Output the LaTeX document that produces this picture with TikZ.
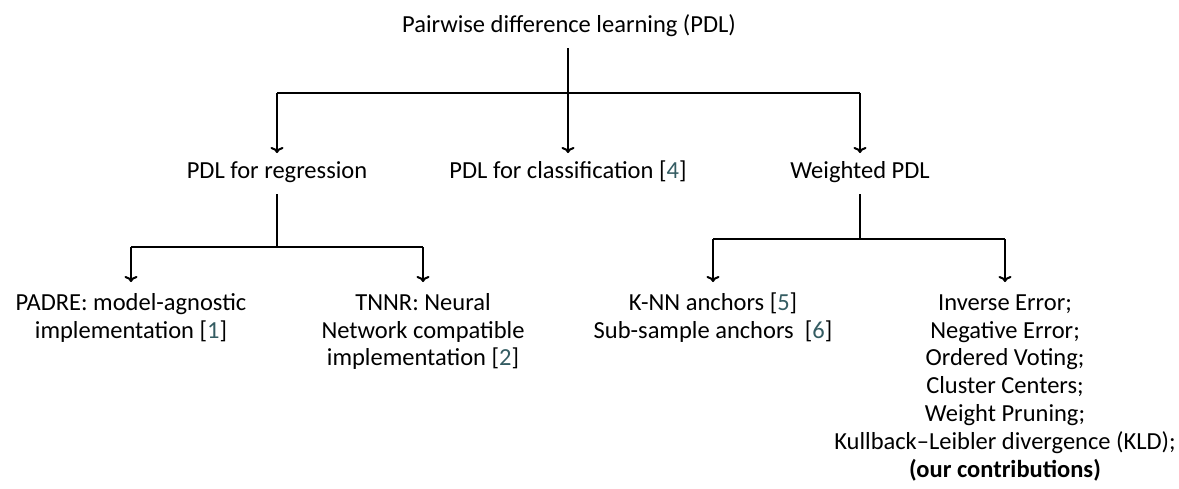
\documentclass[tikz,border=0pt]{standalone}
\usepackage{fontspec}
\setmainfont{Carlito}
\usetikzlibrary{arrows.meta}
\definecolor{citecol}{RGB}{52,92,98}
\newcommand{\citeref}[1]{[\textcolor{citecol}{#1}]}
% invisible rule fixing the height above and depth below a line
\newcommand{\vfix}[2]{\rule[-#2]{0pt}{\dimexpr#1+#2\relax}}
\begin{document}
\begin{tikzpicture}[x=1pt,y=-1pt,
  every node/.style={font=\fontsize{24.5}{27.8}\selectfont, inner sep=0pt},
  textnode/.style={anchor=north, align=center},
  link/.style={line width=2pt},
  arrowlink/.style={line width=2pt, -{To[length=6pt,width=13pt]}}]
\useasboundingbox (0,0) rectangle (1179,488);

% tree nodes
\node[textnode] (title) at (569,14) {\vfix{18pt}{16pt}Pairwise difference learning (PDL)};
\node[textnode] (reg)   at (277,153) {\vfix{25pt}{16pt}PDL for regression};
\node[textnode] (cls)   at (568,153) {\vfix{25pt}{16pt}PDL for classification \citeref{4}};
\node[textnode] (wpdl)  at (860,153) {\vfix{25pt}{16pt}Weighted PDL};
\node[textnode] (padre) at (131,282) {\vfix{28pt}{0pt}PADRE: model-agnostic\\implementation \citeref{1}};
\node[textnode] (tnnr)  at (423,282) {\vfix{28pt}{0pt}TNNR: Neural\\Network compatible\\implementation \citeref{2}};
\node[textnode] (knn)   at (713,282) {\vfix{28pt}{0pt}K-NN anchors \citeref{5}\\Sub-sample anchors~~\citeref{6}};
\node[textnode] (ours)  at (1005,282) {\vfix{28pt}{0pt}Inverse Error;\\Negative Error;\\Ordered Voting;\\Cluster Centers;\\Weight Pruning;\\Kullback--Leibler divergence (KLD);\\\textbf{(our contributions)}};

% branch points
\coordinate (j1) at (568,93);
\coordinate (j2) at (277,247);
\coordinate (j3) at (860,239);

% first level
\draw[link] (title.south -| j1) -- (j1);
\draw[link] (j1 -| reg) -- (j1 -| wpdl);
\draw[arrowlink] (j1 -| reg) -- (reg.north);
\draw[arrowlink] (j1) -- (cls.north -| j1);
\draw[arrowlink] (j1 -| wpdl) -- (wpdl.north);

% regression branch
\draw[link] (reg.south) -- (j2);
\draw[link] (j2 -| padre) -- (j2 -| tnnr);
\draw[arrowlink] (j2 -| padre) -- (padre.north);
\draw[arrowlink] (j2 -| tnnr) -- (tnnr.north);

% weighted branch
\draw[link] (wpdl.south) -- (j3);
\draw[link] (j3 -| knn) -- (j3 -| ours);
\draw[arrowlink] (j3 -| knn) -- (knn.north);
\draw[arrowlink] (j3 -| ours) -- (ours.north);
\end{tikzpicture}
\end{document}
